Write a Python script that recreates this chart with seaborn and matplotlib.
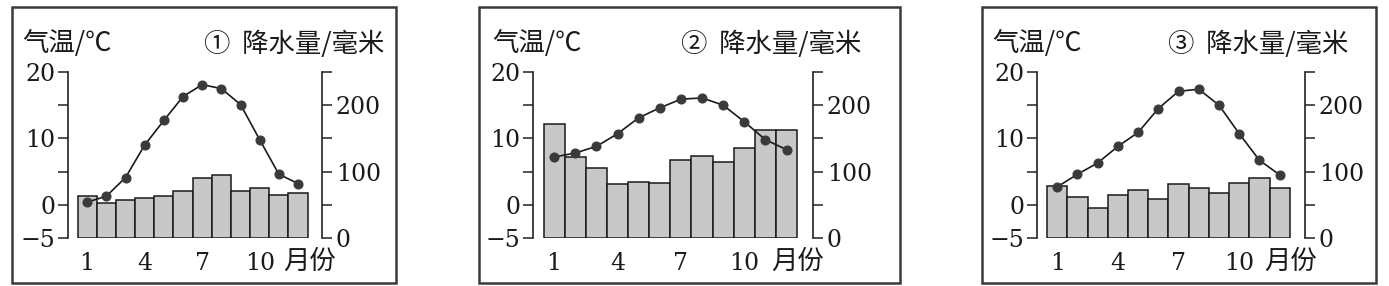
import matplotlib
matplotlib.use("Agg")
import matplotlib.pyplot as plt
import seaborn as sns
from matplotlib.patches import Rectangle
from matplotlib.transforms import blended_transform_factory

# ---------------- data ----------------
months = list(range(1, 13))
temp_1 = [0.4, 1.3, 4.1, 9.0, 12.7, 16.3, 18.1, 17.5, 15.1, 9.8, 4.6, 3.2]
precip_1 = [63, 52, 57, 60, 64, 71, 90, 95, 71, 76, 65, 68]
temp_2 = [7.2, 7.8, 8.8, 10.7, 13.1, 14.6, 15.9, 16.1, 15.0, 12.5, 9.8, 8.3]
precip_2 = [171, 122, 106, 81, 85, 83, 117, 124, 114, 135, 163, 162]
temp_3 = [2.7, 4.6, 6.3, 8.8, 10.9, 14.5, 17.1, 17.4, 15.0, 10.7, 6.7, 4.5]
precip_3 = [79, 61, 45, 65, 73, 58, 81, 75, 68, 83, 90, 75]
panel_labels = ["①", "②", "③"]
temp_title = "气温/℃"
precip_title = "降水量/毫米"
month_word = "月份"
temp_ticks = [-5, 0, 5, 10, 15, 20]
temp_tick_labels = ["−5", "0", "", "10", "", "20"]
precip_ticks = [0, 50, 100, 150, 200, 250]
precip_tick_labels = ["0", "", "100", "", "200", ""]
month_ticks = [1, 4, 7, 10]
month_tick_labels = ["1", "4", "7", "10"]

temps = [temp_1, temp_2, temp_3]
precips = [precip_1, precip_2, precip_3]

# ---------------- style ----------------
sns.set_style("white")
plt.rcParams["font.family"] = ["DejaVu Serif"]
CJK = ["Noto Sans CJK SC", "DejaVu Sans"]

W, H = 1389, 286
fig = plt.figure(figsize=(W / 100, H / 100), dpi=100)

# layout in pixels: box left/right, axes left/right, title right end, left label start
layout = [
    (12, 396, 68, 322, 384, 22),
    (479, 900, 533, 813, 861, 492),
    (982, 1376, 1037, 1305, 1348, 992),
]
box_top, box_bot = 7, 283
ax_top, ax_bot = 72, 238
title_y = 44

AXC = "#222222"
BAR = "#c8c8c8"
TXT = "#1a1a1a"
CJK_SIZE = 19
NUM_SIZE = 17

for i, (bl, br, al, ar, tr, ll) in enumerate(layout):
    # panel frame
    fig.patches.append(Rectangle((bl / W, 1 - box_bot / H), (br - bl) / W, (box_bot - box_top) / H,
                                 transform=fig.transFigure, fill=False,
                                 edgecolor="#3a3a3a", linewidth=1.8, zorder=0))

    ax_p = fig.add_axes([al / W, 1 - ax_bot / H, (ar - al) / W, (ax_bot - ax_top) / H])
    ax_p.patch.set_alpha(0)
    sns.barplot(x=months, y=precips[i], native_scale=True, width=1.0, color=BAR,
                saturation=1, edgecolor="#1a1a1a", linewidth=1.1, ax=ax_p, zorder=2)
    ax_t = ax_p.twinx()
    sns.lineplot(x=months, y=temps[i], ax=ax_t, color="#1a1a1a", linewidth=1.2,
                 marker="o", markersize=6.5, markerfacecolor="#3a3a3a",
                 markeredgecolor="#3a3a3a", zorder=3)

    # precipitation axis on the right
    ax_p.set_ylim(0, 250)
    ax_p.set_xlim(0, 13.25)
    ax_p.yaxis.tick_right()
    ax_p.set_yticks(precip_ticks)
    ax_p.set_yticklabels(precip_tick_labels)
    for s in ["left", "top", "bottom"]:
        ax_p.spines[s].set_visible(False)
    ax_p.spines["right"].set_color(AXC)
    ax_p.spines["right"].set_linewidth(1.2)
    ax_p.tick_params(axis="y", which="both", right=True, left=False, length=7,
                     width=1.1, color=AXC, labelsize=NUM_SIZE, pad=3, labelcolor=TXT)
    ax_p.set_xticks(month_ticks)
    ax_p.set_xticklabels(month_tick_labels)
    ax_p.tick_params(axis="x", bottom=True, length=0, labelsize=NUM_SIZE, pad=10,
                     labelcolor=TXT)
    ax_p.set_xlabel("")
    ax_p.set_ylabel("")
    ax_p.grid(False)

    # temperature axis on the left
    ax_t.set_ylim(-5, 20)
    ax_t.yaxis.tick_left()
    ax_t.set_yticks(temp_ticks)
    ax_t.set_yticklabels(temp_tick_labels)
    for s in ["right", "top", "bottom"]:
        ax_t.spines[s].set_visible(False)
    ax_t.spines["left"].set_visible(True)
    ax_t.spines["left"].set_color(AXC)
    ax_t.spines["left"].set_linewidth(1.2)
    ax_t.tick_params(axis="y", which="both", left=True, right=False, length=7,
                     width=1.1, color=AXC, labelsize=NUM_SIZE, pad=2, labelcolor=TXT)
    ax_t.set_ylabel("")
    ax_t.grid(False)

    # month word after the "10" tick
    tr_b = blended_transform_factory(ax_p.transData, ax_p.transAxes)
    ax_p.text(11.25, -0.14, month_word, transform=tr_b, ha="left", va="center",
              fontsize=CJK_SIZE, family=CJK, color=TXT)

    # titles
    fig.text(ll / W, 1 - title_y / H, temp_title, ha="left", va="center",
             fontsize=CJK_SIZE, family=CJK, color=TXT)
    fig.text(tr / W, 1 - title_y / H, panel_labels[i] + "  " + precip_title,
             ha="right", va="center", fontsize=CJK_SIZE, family=CJK, color=TXT)

fig.savefig("out.png", dpi=100)
